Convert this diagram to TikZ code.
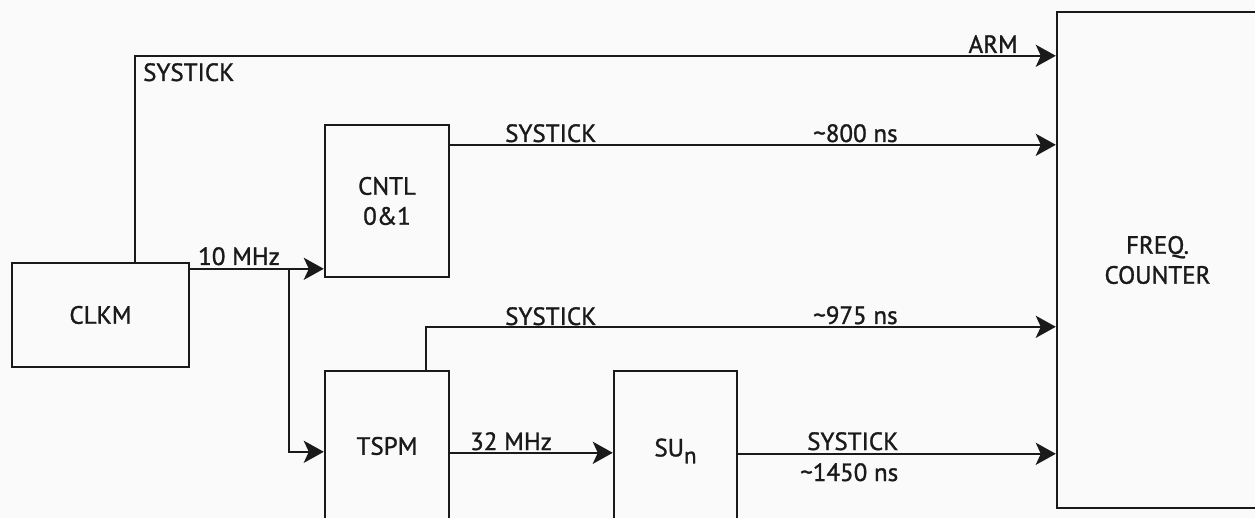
\documentclass[tikz,border=0pt]{standalone}
\usepackage{fontspec}
\setmainfont{PT Sans}[FakeBold=1.2]
\usetikzlibrary{arrows.meta}
\definecolor{ink}{HTML}{1A1A1A}
\definecolor{bgc}{HTML}{FAFAFA}
\tikzset{
  blk/.style={draw=ink, line width=2.4pt, inner sep=0pt, align=center, text=ink,
              font=\fontsize{25}{30}\selectfont},
  lbl/.style={inner sep=0pt, text=ink, font=\fontsize{25}{30}\selectfont},
  wire/.style={draw=ink, line width=2.4pt},
  arr/.style={wire, -{Stealth[length=20pt, width=22pt, inset=5pt]}}
}
\begin{document}
\begin{tikzpicture}[x=1pt, y=-1pt]
\useasboundingbox (0,0) rectangle (1255,518);
\fill[bgc] (0,0) rectangle (1255,518);
\clip (0,0) rectangle (1255,518);

% blocks
\node[blk, minimum width=177pt, minimum height=104pt] (clkm) at (100.5,315) {CLKM};
\node[blk, minimum width=124pt, minimum height=152pt] (cntl) at (387,201) {CNTL\\0\&1};
\node[blk, minimum width=124pt, minimum height=150pt] (tspm) at (387,446) {TSPM};
\node[blk, minimum width=123pt, minimum height=160pt] (sun) at (675.5,451)
  {SU\raisebox{-7pt}{\fontsize{23}{26}\selectfont n}};
\node[blk, minimum width=201pt, minimum height=496pt] (freq) at (1157.5,260) {FREQ.\\COUNTER};

% helper coordinates
\coordinate (br) at ([xshift=99pt,yshift=-7pt]clkm.north east);
\coordinate (c0) at ([yshift=-7pt]clkm.north east);
\coordinate (c1) at ([yshift=-21pt]cntl.north east);
\coordinate (c3) at ([yshift=-83pt]tspm.north east);
\coordinate (c4) at ([yshift=-84pt]sun.north east);

% connectors
\draw[arr] ([xshift=124pt]clkm.north west) |- ([yshift=-45pt]freq.north west);
\draw[arr] (c0) -- (c0 -| cntl.west);
\draw[arr] (br) |- ([yshift=-82pt]tspm.north west);
\draw[arr] (c1) -- (c1 -| freq.west);
\draw[arr] ([xshift=102pt]tspm.north west) |- ([yshift=-316pt]freq.north west);
\draw[arr] (c3) -- (c3 -| sun.west);
\draw[arr] (c4) -- (c4 -| freq.west);

% labels
\node[lbl, anchor=base west] (l1) at (143,81) {SYSTICK};
\node[lbl, anchor=base east] (l2) at (1018,53) {ARM};
\node[lbl, anchor=base west] (l3) at (198,265) {10 MHz};
\node[lbl, anchor=base west] (l4) at (505,142) {SYSTICK};
\node[lbl, anchor=base west] (l5) at (813,142) {\textasciitilde800 ns};
\node[lbl, anchor=base west] (l6) at (505,325) {SYSTICK};
\node[lbl, anchor=base west] (l7) at (813,324) {\textasciitilde975 ns};
\node[lbl, anchor=base west] (l8) at (470,450) {32 MHz};
\node[lbl, anchor=base west] (l9) at (807,450) {SYSTICK};
\node[lbl, anchor=base west] (l10) at (800,481) {\textasciitilde1450 ns};
\end{tikzpicture}
\end{document}
